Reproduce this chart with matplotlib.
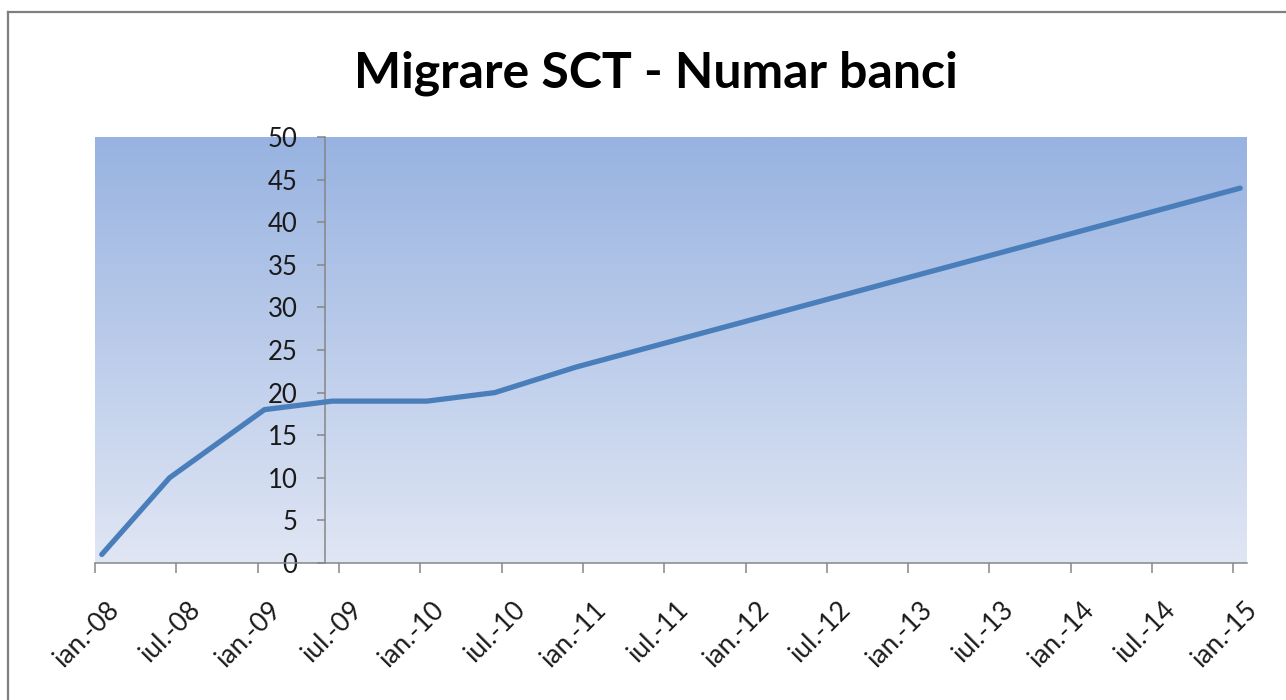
import numpy as np
import matplotlib
matplotlib.use("Agg")
from matplotlib import pyplot as plt
from matplotlib.lines import Line2D
from matplotlib.transforms import ScaledTranslation

# data (month, number of banks)
months = ["2008-01", "2008-06", "2009-01", "2009-06", "2010-01", "2010-06", "2010-12", "2015-01"]
banci = [1, 10, 18, 19, 19, 20, 23, 44]

tick_labels = ["ian.-08", "iul.-08", "ian.-09", "iul.-09", "ian.-10", "iul.-10", "ian.-11", "iul.-11",
               "ian.-12", "iul.-12", "ian.-13", "iul.-13", "ian.-14", "iul.-14", "ian.-15"]
y_ticks = [0, 5, 10, 15, 20, 25, 30, 35, 40, 45, 50]
title = "Migrare SCT - Numar banci"


def month_index(s):
    """months since jan 2008, point sits in the middle of its month"""
    y, m = s.split("-")
    return (int(y) - 2008) * 12 + int(m) - 1 + 0.5


x = [month_index(m) for m in months]

plt.rcParams['font.family'] = ['Lato', 'DejaVu Sans']

W, H = 1286, 700
fig = plt.figure(figsize=(W / 100, H / 100), dpi=100)
ax = fig.add_axes([95 / W, 1 - 563 / H, (1247 - 95) / W, (563 - 137) / H])

x_min, x_max = 0, 85
ax.set_xlim(x_min, x_max)
ax.set_ylim(0, 50)

# gradient background of the plot area
top = np.array([152, 179, 225]) / 255
bot = np.array([224, 230, 244]) / 255
t = np.linspace(0, 1, 256)[:, None]
grad = (top * (1 - t) + bot * t)[:, None, :]
ax.imshow(grad, extent=[x_min, x_max, 0, 50], aspect='auto', zorder=0, interpolation='bilinear')

ax.plot(x, banci, color='#4a7ebb', lw=3.8, solid_capstyle='round', solid_joinstyle='round', zorder=3)

for s in ['top', 'right']:
    ax.spines[s].set_visible(False)
ax.spines['left'].set_position(('data', 17))
ax.spines['left'].set_color('#868686')
ax.spines['bottom'].set_color('#868686')
ax.spines['left'].set_linewidth(1.1)
ax.spines['bottom'].set_linewidth(1.1)

ax.set_yticks(y_ticks)
ax.set_yticklabels([str(v) for v in y_ticks])
ax.tick_params(axis='y', direction='out', length=6, width=1.1, color='#868686',
               labelsize=18.5, pad=14, labelcolor='#1a1a1a')

ax.set_xticks(np.arange(0, 85, 6))
ax.set_xticklabels(tick_labels, rotation=45, ha='right', rotation_mode='anchor')
ax.tick_params(axis='x', direction='out', length=7, width=1.1, color='#868686',
               labelsize=19, pad=17, labelcolor='#1a1a1a')
shift = ScaledTranslation(11 / 100, 0, fig.dpi_scale_trans)
for lab in ax.get_xticklabels():
    lab.set_transform(lab.get_transform() + shift)

fig.text(0.51, 1 - 88 / H, title, ha='center', va='baseline', fontsize=36, fontweight='bold')

# outer chart border (only left and top visible in the crop)
fig.add_artist(Line2D([8 / W, 8 / W], [0, 1 - 12 / H], transform=fig.transFigure, color='#7f7f7f', lw=1.6))
fig.add_artist(Line2D([8 / W, 1], [1 - 12 / H, 1 - 12 / H], transform=fig.transFigure, color='#7f7f7f', lw=1.6))

fig.savefig("out.png", dpi=100)
